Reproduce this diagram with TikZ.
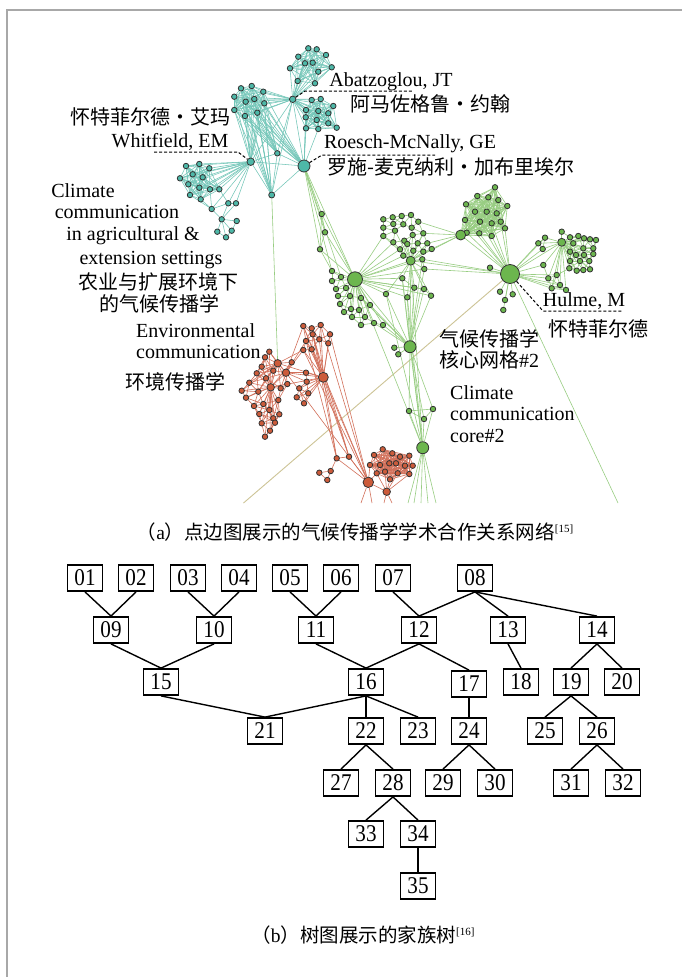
\documentclass[tikz,border=0pt]{standalone}
\usepackage{fontspec}
\setmainfont{Liberation Serif}
\newfontfamily\cjk{Noto Sans CJK SC}
\newfontfamily\numfont{Liberation Serif}[FakeStretch=0.88]
\pgfdeclarelayer{bg}
\pgfsetlayers{bg,main}
\definecolor{tealN}{HTML}{4DB8A8}
\definecolor{tealE}{HTML}{72C6B8}
\definecolor{grnN}{HTML}{6CB64E}
\definecolor{grnE}{HTML}{98CD82}
\definecolor{redN}{HTML}{CC5B3A}
\definecolor{redE}{HTML}{D2705A}
\definecolor{beigeE}{HTML}{CDC496}
\definecolor{frameG}{HTML}{A8A8A8}
\tikzset{
 nd/.style={circle, draw=black!80, line width=0.8pt, inner sep=0pt, minimum size=5.5pt},
 tn/.style={nd, fill=tealN},
 gn/.style={nd, fill=grnN},
 rn/.style={nd, fill=redN},
 te/.style={draw=tealE, line width=0.55pt},
 ge/.style={draw=grnE, line width=0.6pt},
 re/.style={draw=redE, line width=0.6pt},
 lab/.style={font=\fontsize{20}{22}\selectfont, inner sep=0pt, text height=14pt, text depth=4pt},
 clab/.style={font=\fontsize{20}{22}\selectfont\cjk, inner sep=0pt, text height=16pt, text depth=4pt},
 lead/.style={draw=black, line width=1pt, dash pattern=on 3pt off 2pt},
 tbox/.style={draw=black, line width=1.8pt, minimum width=35pt, minimum height=26pt, inner sep=0pt, font=\fontsize{24}{24}\selectfont\numfont},
 tline/.style={draw=black, line width=1.4pt},
 captext/.style={font=\fontsize{19.5}{22}\selectfont\cjk, inner sep=0pt},
}
\newcommand\mknodes[3]{\foreach \x/\y [count=\ci] in #1 {\node[#3] (#2\ci) at (\x,\y) {};}}
\newcommand\cledges[4]{%
  \foreach \xa/\ya [count=\ci] in #1 {%
    \foreach \xb/\yb [count=\cj] in #1 {%
      \ifnum\ci<\cj
        \pgfmathsetmacro\dd{veclen(\xa-\xb,\ya-\yb)}%
        \ifdim\dd pt<#3pt \draw[#4] (#2\ci) -- (#2\cj);\fi
      \fi}}}
\newcommand\fan[4]{\foreach \ci in {#3} {\draw[#4] (#1) -- (#2\ci);}}
\begin{document}
\begin{tikzpicture}[x=1pt,y=-1pt]
\useasboundingbox (0,0) rectangle (682,977);
\begin{pgfonlayer}{bg}\fill[white] (0,0) rectangle (682,977);\end{pgfonlayer}
\draw[frameG, line width=2pt] (7,977) -- (7,10) -- (682,10);

\def\TTlist{308.3/48.3,316.7/49.3,298.3/56.7,326/55,305/63.3,312.7/62.7,290/68.3,318.3/71.7,331.7/67.3,297.7/81,315/83.3}
\def\TLlist{241/88.3,251.7/86,263.3/91.7,234.3/96.7,245.7/101.7,254.3/99,264.3/103.3,234.3/110,245/116,257.3/112.7}
\def\TUlist{311.7/100,320.7/99,333.3/106,306/110,318.3/111,328.3/113.3,305.7/117.3,316.7/120,306/128.3,318.3/129,328.3/123.3,336.7/127.7}
\def\TClist{186/166,199.3/164,209.3/168.3,180/178.3,192.7/174.3,202.7/177.3,188.3/184.3,199.3/187.7,210/189.3,219.3/189.3,190/195,200.7/199.3}
\def\TXlist{211.7/209,228.3/203.3,236/203.3,221.7/219.3,236.7/221,231.7/230.7,217.3/231.7,226/237.3}
\def\GAlist{332/271,332/281,341/277,336/289,346/288,338/296,350/296,361/298,340/304,351/309,359/310,370/305,344/312,352/317,365/317,361/325,374/323,383/325}
\def\GBlist{383.3/219.3,392.7/217.3,401.7/216,411/215,383.3/227.7,393.3/224,403.3/224.3,411.7/227.7,418.3/221.7,383.3/236,395/230.7,404.3/240.7,412.7/235,423.3/233.3,393.3/242.3,400/249.3,407.3/244,413.3/250.7,417.7/243.3,427.3/243.3,403.3/255.7,423.3/251.7,431.7/249}
\def\GDlist{422.3/259.3,424.3/269,402.3/278.3,414.3/287.7,424/289,386/294,407.3/297.3,431/295.7}
\def\GClist{495/187.3,477.3/196,488.3/197.3,498.3/200,507.3/206,466/204.3,475/211.7,486.7/211.7,496.7/213.3,465/220,480/221.7,491.7/223.3,500.7/221.7,466.7/232.7,479.3/233.3,491.7/236,505/228.3}
\def\GHlist{490/267.7,500/291.7,505/300,512.7/294.3,503.3/310}
\def\GRlist{545/237.7,538.3/243.3,542.7/249,561.7/231.7,570/237.3,578.3/236,584/238.3,590/239.3,596/240,573.3/243.3,583.3/248.3,593.3/248.3,570/251.7,576/255,584/255,593.3/254,570/261,580/261,589.3/261,569.3/268.3,576.7/270.7,583.3/270,590/269.3,543.3/265,548.3/278.3,556.7/275,551.7/288.3,560/285,566/290}
\def\GElist{409/411,433/409,424/419}
\def\RAlist{269.3/351.7,265/357.3,261.7/366.7,273.3/370.7,291.7/362.3,256.7/373.3,266/378.3,249.3/382.7,280.7/388.3,287.3/384,241.7/390.7,258.3/391.7,246/397.7,278.3/400,254/406,263.3/404,269.3/410,259.3/414,279.3/414.3,273.3/418.3,261.7/423.3,275/422.7,270/430.7,265/436.7}
\def\RBlist{303.3/326,311.7/328.3,320.7/325,312.7/334.3,330/334.3,306/341,319.3/339.3,328.3/343.3,303.3/350,311.7/349.3,306/372.7,306.7/381.7,299.3/388.3,308.3/393.3,296.7/397.3,304/403.3}
\def\RLlist{336.7/458.3,349/456.7,319.3/472.7,330.7/471,327.3/480}
\def\RClist{374/455,382.7/449.3,392.3/453.3,400/456.7,409.3/455.7,370/465,380/465,389.3/463.3,396/463.3,405/465.7,412.7/465.7,376.7/473.3,385/471.7,397.7/473.3,409.3/474,390/479.3}

% ---------- network nodes ----------
\mknodes{\TTlist}{tt}{tn}
\mknodes{\TLlist}{tl}{tn}
\mknodes{\TUlist}{tu}{tn}
\mknodes{\TClist}{tc}{tn}
\mknodes{\TXlist}{tx}{tn}
\node[tn, minimum size=6.5pt] (ta) at (292.7,99.3) {};
\node[tn, minimum size=7.5pt] (tw) at (250.7,161.7) {};
\node[tn] (tm) at (277.3,153.3) {};
\node[tn, minimum size=12pt] (tr) at (304,166) {};
\node[tn, minimum size=6pt] (tb) at (271.7,195) {};
\mknodes{\GAlist}{ga}{gn}
\mknodes{\GBlist}{gb}{gn}
\mknodes{\GDlist}{gd}{gn}
\mknodes{\GClist}{gc}{gn}
\mknodes{\GHlist}{gh}{gn}
\mknodes{\GRlist}{gr}{gn}
\mknodes{\GElist}{ge}{gn}
\node[gn] (g1) at (321.7,214) {};
\node[gn] (g2) at (325,232.3) {};
\node[gn] (g3) at (320,249.3) {};
\node[gn, minimum size=15pt] (GA) at (355,279.3) {};
\node[gn, minimum size=9pt] (GB) at (410.7,260.7) {};
\node[gn, minimum size=10pt] (GC) at (460.7,235) {};
\node[gn, minimum size=19pt] (GH) at (510,274) {};
\node[gn, minimum size=8pt] (GR) at (561.7,242.3) {};
\node[gn, minimum size=12pt] (GD) at (410,346.7) {};
\node[gn] (gk1) at (394.3,347.7) {};
\node[gn] (gk2) at (398.3,354.3) {};
\node[gn, minimum size=12pt] (GE) at (422.7,447.7) {};
\mknodes{\RAlist}{ra}{rn}
\mknodes{\RBlist}{rb}{rn}
\mknodes{\RLlist}{rl}{rn}
\mknodes{\RClist}{rc}{rn}
\node[rn, minimum size=7.5pt] (R1) at (277.7,363.3) {};
\node[rn, minimum size=7.5pt] (R2) at (286,372.7) {};
\node[rn, minimum size=7.5pt] (R3) at (270.7,387.3) {};
\node[rn, minimum size=10pt] (R4) at (323.3,377.3) {};
\node[rn, minimum size=10.5pt] (R5) at (368.3,482.3) {};
\node[rn, minimum size=7.5pt] (R6) at (386.7,491.7) {};
\foreach \bx [count=\ci] in {408,414,421,428,436} {\coordinate (geb\ci) at (\bx,503);}
\coordinate (ghb) at (618,503);
\coordinate (beb) at (243.5,503);
\coordinate (r5b1) at (361,503);
\coordinate (r5b2) at (372,503);
\coordinate (r6b1) at (384,503);
\coordinate (r6b2) at (392,503);

% ---------- network edges ----------
\begin{pgfonlayer}{bg}
\cledges{\TTlist}{tt}{100}{te}
\fan{ta}{tt}{1,...,11}{te}
\cledges{\TLlist}{tl}{100}{te}
\foreach \hb in {ta,tw,tm,tr,tb}{\fan{\hb}{tl}{1,...,10}{te}}
\cledges{\TUlist}{tu}{100}{te}
\fan{ta}{tu}{1,...,12}{te}
\fan{tr}{tu}{4,7,9,10}{te}
\foreach \pa/\pb in {ta/tw,ta/tm,ta/tr,ta/tb,tw/tm,tw/tr,tm/tr,tw/tb,tm/tb,tr/tb}{\draw[te] (\pa) -- (\pb);}
\cledges{\TClist}{tc}{100}{te}
\fan{tw}{tc}{1,...,12}{te}
\foreach \pa/\pb in {tc12/tx1,tc11/tx1,tc9/tx1,tc10/tx2,tx1/tx2,tx1/tx4,tx2/tx3,tx2/tx4,tx3/tx4,tx4/tx5,tx4/tx6,tx4/tx7,tx5/tx6,tx6/tx8,tx7/tx8,tx4/tx8,tw/tx1,tw/tx2,tw/tx3}{\draw[te] (\pa) -- (\pb);}
% green
\draw[beigeE, line width=0.9pt] (beb) -- (GH);
\draw[ge] (tb) -- (R1);
\foreach \pa/\pb in {tr/g1,tr/g2,tr/g3,tr/GA,tr/ga1,tr/ga3,g1/g2,g2/g3,g3/GA,g1/GA,g2/GA,g3/ga1,g1/g3}{\draw[ge] (\pa) -- (\pb);}
\cledges{\GAlist}{ga}{14}{ge}
\fan{GA}{ga}{1,...,18}{ge}
\cledges{\GBlist}{gb}{13}{ge}
\fan{GB}{gb}{10,...,23}{ge}
\cledges{\GDlist}{gd}{16}{ge}
\fan{GB}{gd}{1,...,8}{ge}
\fan{GA}{gd}{1,...,8}{ge}
\fan{GA}{gb}{10,15,16,21}{ge}
\fan{GD}{gd}{1,...,8}{ge}
\fan{GD}{ga}{8,12,17,18}{ge}
\cledges{\GClist}{gc}{100}{ge}
\fan{GC}{gc}{1,...,17}{ge}
\fan{GC}{gb}{9,14,20,23}{ge}
\fan{GH}{gc}{10,...,17}{ge}
\fan{GH}{gh}{1,...,5}{ge}
\cledges{\GRlist}{gr}{15}{ge}
\fan{GR}{gr}{1,...,29}{ge}
\fan{GH}{gr}{1,2,3,24,25,26,27,28,29}{ge}
\foreach \pa/\pb in {GA/GB,GB/GC,GC/GH,GH/GR,GH/GB,GH/gd1,GH/gd2,GA/GD,GB/GD,GD/gk1,GD/gk2,GD/ge1,GD/ge2,GD/ge3,ge1/ge2,ge1/ge3,ge2/ge3,ge1/GE,ge2/GE,ge3/GE,GD/GE,gd3/GE,gd6/GE,GB/GE,gd7/GE,GA/GE}{\draw[ge] (\pa) -- (\pb);}
\fan{GE}{geb}{1,...,5}{ge}
\draw[ge] (GH) -- (ghb);
% red
\cledges{\RAlist}{ra}{19}{re}
\fan{R3}{ra}{1,...,24}{re}
\fan{R1}{ra}{1,...,12}{re}
\fan{R2}{ra}{1,4,5,7,9,10}{re}
\foreach \pa/\pb in {R1/R2,R1/R3,R2/R3,R1/R4,R2/R4,R3/R4,R2/rb1,R2/rb6,R2/rb9,R1/rb9,R2/rb11,R2/rb12}{\draw[re] (\pa) -- (\pb);}
\cledges{\RBlist}{rb}{16}{re}
\fan{R4}{rb}{1,...,16}{re}
\foreach \pa/\pb in {R4/rl2,R4/R5,R4/rl1,rb1/R5,rb3/R5,rb4/rl2,rb6/rl1,rb9/R5,rb10/rl2,rb5/R5,R2/R5,rb2/rl1,rl1/rl2,rl1/rl4,rl3/rl4,rl3/rl5,rl4/rl5,rl2/R5,rl1/R5,R5/R6,R5/r5b1,R5/r5b2,R6/r6b1,R6/r6b2}{\draw[re] (\pa) -- (\pb);}
\cledges{\RClist}{rc}{100}{re}
\fan{R6}{rc}{12,...,16}{re}
\fan{R5}{rc}{6,12}{re}
\end{pgfonlayer}

% ---------- labels ----------
\coordinate (aL1) at (305,91); \coordinate (aL2) at (413,91);
\draw[lead] (ta) -- (aL1) -- (aL2);
\coordinate (wL1) at (154,152); \coordinate (wL2) at (238,152);
\draw[lead] (wL1) -- (wL2) -- (tw);
\coordinate (rL1) at (322,155); \coordinate (rL2) at (435,155);
\draw[lead] (tr) -- (rL1) -- (rL2);
\coordinate (hL1) at (543,311); \coordinate (hL2) at (622,311);
\draw[lead] (GH) -- (hL1) -- (hL2);

\node[lab] (lAba) at (391,81) {Abatzoglou, JT};
\node[clab] (lAbaC) at (430,105) {阿马佐格鲁・约翰};
\node[clab] (lWhC) at (150,118) {怀特菲尔德・艾玛};
\node[lab] (lWh) at (170,142) {Whitfield, EM};
\node[lab] (lRo) at (410,143) {Roesch-McNally, GE};
\node[clab] (lRoC) at (451,168) {罗施-麦克纳利・加布里埃尔};
\node[lab] (lc1) at (83,192) {Climate};
\node[lab] (lc2) at (117,213) {communication};
\node[lab] (lc3) at (133,235) {in agricultural \&};
\node[lab] (lc4) at (151,259) {extension settings};
\node[clab] (lc5) at (158,283) {农业与扩展环境下};
\node[clab] (lc6) at (159,305) {的气候传播学};
\node[lab, anchor=west] (le1) at (136,332) {Environmental};
\node[lab, anchor=west] (le2) at (136,353) {communication};
\node[clab] (le3) at (175,383) {环境传播学};
\node[lab] (lHu) at (584,301) {Hulme, M};
\node[clab] (lHuC) at (598,330) {怀特菲尔德};
\node[clab, anchor=west] (lk1) at (439,340) {气候传播学};
\node[clab, anchor=west] (lk2) at (439,361) {核心网格{\rmfamily\#2}};
\node[lab, anchor=west] (lq1) at (450,394) {Climate};
\node[lab, anchor=west] (lq2) at (450,415) {communication};
\node[lab, anchor=west] (lq3) at (450,437) {core\#2};

\node[captext] (capA) at (355,532) {（{\rmfamily a}）点边图展示的气候传播学学术合作关系网络\raisebox{7pt}{\fontsize{11}{11}\selectfont\rmfamily[15]}};

% ---------- tree ----------
\foreach \nm/\x/\y in {01/85/578,02/136/578,03/188/578,04/239/578,05/290/578,06/341/578,07/393/578,08/475/578,
 09/111/630,10/214/630,11/316/630,12/419/630,13/508/630,14/597/630,
 15/161/682,16/366/682,17/469/684,18/521/682,19/571/682,20/622/682,
 21/265/731,22/366/731,23/418/731,24/469/731,25/545/731,26/597/731,
 27/341/783,28/393/783,29/443/783,30/495/783,31/571/783,32/623/783,
 33/366/834,34/418/834,35/418/886}
 {\node[tbox] (n\nm) at (\x,\y) {\nm};}
\foreach \pa/\pb in {01/09,02/09,03/10,04/10,05/11,06/11,07/12,08/12,08/13,08/14,09/15,10/15,11/16,12/16,12/17,13/18,14/19,14/20,15/21,16/21,16/22,16/23,17/24,19/25,19/26,22/27,22/28,24/29,24/30,26/31,26/32,28/33,28/34,34/35}
 {\draw[tline] (n\pa.south) -- (n\pb.north);}

\node[captext] (capB) at (363,935) {（{\rmfamily b}）树图展示的家族树\raisebox{7pt}{\fontsize{11}{11}\selectfont\rmfamily[16]}};
\end{tikzpicture}
\end{document}
